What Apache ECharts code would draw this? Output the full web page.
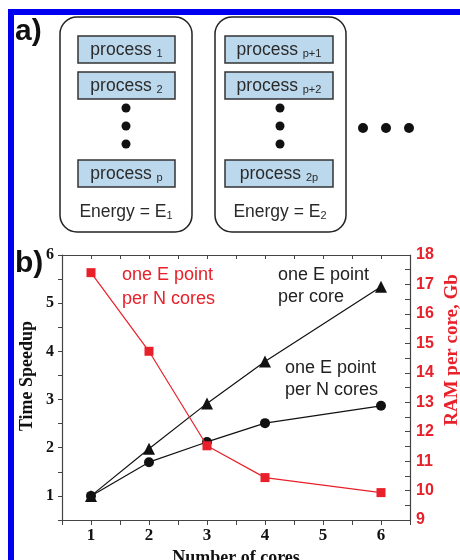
<!DOCTYPE html>
<html>
<head>
<meta charset="utf-8">
<style>html,body{margin:0;padding:0;background:#fff;}#c{width:460px;height:560px;}</style>
<script src="https://cdn.jsdelivr.net/npm/echarts@6/dist/echarts.min.js"></script>
</head>
<body>
<div id="c"></div>
<script>
// ---- data ----
var cores = [1, 2, 3, 4, 6];
var speedupPerCore = [1, 1.98, 2.92, 3.79, 5.34];
var speedupPerNCores = [1, 1.70, 2.12, 2.51, 2.87];
var ramPerCore = [17.4, 14.73, 11.52, 10.44, 9.93];
var xTicks = [1, 2, 3, 4, 5, 6];
var leftTicks = [1, 2, 3, 4, 5, 6];
var rightTicks = [9, 10, 11, 12, 13, 14, 15, 16, 17, 18];

var RED = '#e8202a';
var AX = '#444';

function pairs(xs, ys) { return xs.map(function (x, i) { return [x, ys[i]]; }); }

var chart = echarts.init(document.getElementById('c'), null, { renderer: 'canvas' });

// ---- diagram (panel a) ----
var g = [];
g.push({ type: 'rect', shape: { x: 8, y: 9, width: 452, height: 6 }, style: { fill: '#0000f0' } });
g.push({ type: 'rect', shape: { x: 8, y: 9, width: 6, height: 551 }, style: { fill: '#0000f0' } });
g.push({ type: 'text', x: 15, y: 17, style: { text: 'a)', fontFamily: 'Liberation Sans, Arial', fontWeight: 'bold', fontSize: 30, fill: '#111' } });
g.push({ type: 'text', x: 15, y: 249, style: { text: 'b)', fontFamily: 'Liberation Sans, Arial', fontWeight: 'bold', fontSize: 30, fill: '#111' } });

var boxes = [
  { x: 60, w: 132, px: 78, pw: 97, dx: 126, subs: ['1', '2', 'p'], e: '1' },
  { x: 215, w: 131, px: 225, pw: 108, dx: 280, subs: ['p+1', 'p+2', '2p'], e: '2' }
];
var procY = [36, 72, 160];
var richStyle = {
  m: { fontSize: 17.5, fontFamily: 'Liberation Sans, Arial', fill: '#2a2a2a' },
  s: { fontSize: 11, fontFamily: 'Liberation Sans, Arial', fill: '#2a2a2a', verticalAlign: 'bottom', padding: [0, 0, 0, 0] }
};
boxes.forEach(function (b) {
  g.push({ type: 'rect', shape: { x: b.x, y: 17, width: b.w, height: 215, r: 17 }, style: { fill: '#fff', stroke: '#222', lineWidth: 1.5 } });
  procY.forEach(function (y, i) {
    g.push({ type: 'rect', shape: { x: b.px, y: y, width: b.pw, height: 27 }, style: { fill: '#bcd8ec', stroke: '#333', lineWidth: 1.5 } });
    g.push({ type: 'text', x: b.px + b.pw / 2, y: y + 14, style: { text: '{m|process }{s|' + b.subs[i] + '}', rich: richStyle, align: 'center', verticalAlign: 'middle' } });
  });
  [108, 126, 144].forEach(function (y) {
    g.push({ type: 'circle', shape: { cx: b.dx, cy: y, r: 4.5 }, style: { fill: '#111' } });
  });
  g.push({ type: 'text', x: b.dx, y: 212, style: { text: '{m|Energy = E}{s|' + b.e + '}', rich: richStyle, align: 'center', verticalAlign: 'middle' } });
});
[363, 386, 409].forEach(function (x) {
  g.push({ type: 'circle', shape: { cx: x, cy: 128, r: 5 }, style: { fill: '#111' } });
});

// ---- annotations & axis titles (panel b) ----
g.push({ type: 'text', x: 122, y: 263, style: { text: 'one E point\nper N cores', fontFamily: 'Liberation Sans, Arial', fontSize: 18, lineHeight: 24, fill: RED } });
g.push({ type: 'text', x: 278, y: 264, style: { text: 'one E point\nper core', fontFamily: 'Liberation Sans, Arial', fontSize: 18, lineHeight: 22, fill: '#222' } });
g.push({ type: 'text', x: 285, y: 357, style: { text: 'one E point\nper N cores', fontFamily: 'Liberation Sans, Arial', fontSize: 18, lineHeight: 22, fill: '#222' } });
g.push({ type: 'text', x: 27, y: 376, rotation: Math.PI / 2, style: { text: 'Time Speedup', fontFamily: 'Liberation Serif, Times New Roman', fontWeight: 'bold', fontSize: 18, fill: '#111', align: 'center', verticalAlign: 'middle' } });
g.push({ type: 'text', x: 452, y: 350, rotation: Math.PI / 2, style: { text: 'RAM per core, Gb', fontFamily: 'Liberation Serif, Times New Roman', fontWeight: 'bold', fontSize: 19, fill: RED, align: 'center', verticalAlign: 'middle' } });

function intLabel(list) {
  return function (v) { return list.indexOf(Math.round(v * 100) / 100) >= 0 ? String(v) : ''; };
}

var option = {
  animation: false,
  backgroundColor: '#fff',
  grid: { left: 62, right: 50, top: 255, bottom: 40, containLabel: false, outerBoundsMode: 'none' },
  xAxis: [
    {
      type: 'value', min: 0.5, max: 6.5, interval: 0.5, position: 'bottom',
      name: 'Number of cores', nameLocation: 'middle', nameGap: 29,
      nameTextStyle: { fontFamily: 'Liberation Serif, Times New Roman', fontWeight: 'bold', fontSize: 18, color: '#111' },
      axisLine: { show: true, lineStyle: { color: AX, width: 1.2 } },
      axisTick: { show: true, inside: false, length: 5, lineStyle: { color: AX } },
      axisLabel: { formatter: intLabel(xTicks), fontFamily: 'Liberation Serif, Times New Roman', fontWeight: 'bold', fontSize: 17, color: '#111', margin: 7 },
      splitLine: { show: false }
    },
    {
      type: 'value', min: 0.5, max: 6.5, interval: 0.5, position: 'top',
      axisLine: { show: true, lineStyle: { color: AX, width: 1.2 } },
      axisTick: { show: true, inside: true, length: 4, lineStyle: { color: AX } },
      axisLabel: { show: false }, splitLine: { show: false }
    }
  ],
  yAxis: [
    {
      type: 'value', min: 0.5, max: 6, interval: 0.5, position: 'left',
      axisLine: { show: true, lineStyle: { color: AX, width: 1.2 } },
      axisTick: { show: true, inside: false, length: 4, lineStyle: { color: AX } },
      axisLabel: { formatter: intLabel(leftTicks), fontFamily: 'Liberation Serif, Times New Roman', fontWeight: 'bold', fontSize: 16, color: '#111', margin: 8 },
      splitLine: { show: false }
    },
    {
      type: 'value', min: 9, max: 18, interval: 0.5, position: 'right',
      axisLine: { show: true, lineStyle: { color: AX, width: 1.2 } },
      axisTick: { show: true, inside: true, length: 5, lineStyle: { color: AX } },
      axisLabel: { formatter: intLabel(rightTicks), fontFamily: 'Liberation Sans, Arial', fontWeight: 'bold', fontSize: 16, color: RED, margin: 6 },
      splitLine: { show: false }
    }
  ],
  series: [
    {
      type: 'line', name: 'one E point per core', xAxisIndex: 0, yAxisIndex: 0,
      data: pairs(cores, speedupPerCore), symbol: 'triangle', symbolSize: 12,
      lineStyle: { color: '#111', width: 1.2 }, itemStyle: { color: '#111' }, z: 3
    },
    {
      type: 'line', name: 'one E point per N cores', xAxisIndex: 0, yAxisIndex: 0,
      data: pairs(cores, speedupPerNCores), symbol: 'circle', symbolSize: 10,
      lineStyle: { color: '#111', width: 1.2 }, itemStyle: { color: '#111' }, z: 3
    },
    {
      type: 'line', name: 'RAM per core', xAxisIndex: 0, yAxisIndex: 1,
      data: pairs(cores, ramPerCore), symbol: 'rect', symbolSize: 9,
      lineStyle: { color: RED, width: 1.2 }, itemStyle: { color: RED }, z: 4
    }
  ],
  graphic: { elements: g }
};
chart.setOption(option);
</script>
</body>
</html>
